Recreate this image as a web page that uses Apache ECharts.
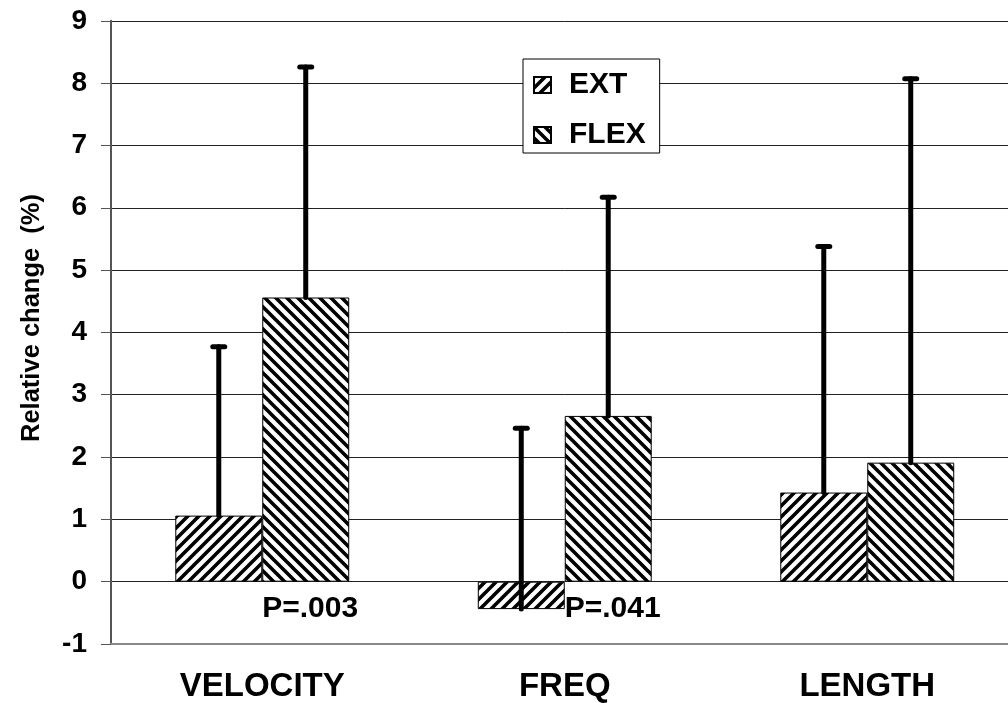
<!DOCTYPE html>
<html>
<head>
<meta charset="utf-8">
<script src="https://cdn.jsdelivr.net/npm/echarts@6/dist/echarts.min.js"></script>
<style>
  html, body { margin: 0; padding: 0; background: #fff; overflow: hidden; }
  #wrap { position: relative; width: 1008px; height: 703px; overflow: hidden; }
  #chart { position: absolute; left: 0; top: 0; width: 1019px; height: 703px; }
</style>
</head>
<body>
<div id="wrap"><div id="chart"></div></div>
<script>
// ---- data ----
const categories = ['VELOCITY', 'FREQ', 'LENGTH'];
const seriesNames = ['EXT', 'FLEX'];
const extMean = [1.06, -0.44, 1.43];
const extErrTop = [3.77, 2.46, 5.38];
const flexMean = [4.56, 2.66, 1.91];
const flexErrTop = [8.26, 6.17, 8.07];
const pLabels = ['P=.003', 'P=.041', ''];
const pLabelY = [-0.44, -0.44, -0.44];
const yTicks = [-1, 0, 1, 2, 3, 4, 5, 6, 7, 8, 9];
const yTitle = 'Relative change  (%)';

const FONT = '"Liberation Sans", Arial, sans-serif';
const BAR_CAT_GAP = 0.425;

function makePattern(dir) {
  const s = 11;
  const c = document.createElement('canvas');
  c.width = s; c.height = s;
  const ctx = c.getContext('2d');
  ctx.fillStyle = '#fff';
  ctx.fillRect(0, 0, s, s);
  ctx.strokeStyle = '#000';
  ctx.lineWidth = 3.6;
  ctx.beginPath();
  if (dir === '/') {
    ctx.moveTo(-s, s); ctx.lineTo(s, -s);
    ctx.moveTo(0, s * 2); ctx.lineTo(s * 2, 0);
    ctx.moveTo(-s, 2 * s); ctx.lineTo(2 * s, -s);
  } else {
    ctx.moveTo(-s, 0); ctx.lineTo(s, 2 * s);
    ctx.moveTo(0, -s); ctx.lineTo(2 * s, s);
    ctx.moveTo(-s, -s); ctx.lineTo(2 * s, 2 * s);
  }
  ctx.stroke();
  return { image: c, repeat: 'repeat' };
}
const extPattern = makePattern('/');
const flexPattern = makePattern('\\');

function errData(means, tops) {
  return means.map((m, i) => [i, m, tops[i]]);
}

function errRender(side) {
  return function (params, api) {
    const i = api.value(0);
    const m = api.value(1);
    const t = api.value(2);
    const bandW = api.size([1, 0])[0];
    const barW = bandW * (1 - BAR_CAT_GAP) / 2;
    const off = side * barW / 2;
    const p0 = api.coord([i, m]);
    const p1 = api.coord([i, t]);
    const x = p0[0] + off;
    const st = { stroke: '#000', lineWidth: 5, lineCap: 'round' };
    return {
      type: 'group',
      children: [
        { type: 'line', shape: { x1: x, y1: p0[1], x2: x, y2: p1[1] }, style: st },
        { type: 'line', shape: { x1: x - 6, y1: p1[1], x2: x + 6, y2: p1[1] }, style: st }
      ]
    };
  };
}

const chart = echarts.init(document.getElementById('chart'), null, { renderer: 'canvas' });
chart.setOption({
  animation: false,
  backgroundColor: '#fff',
  textStyle: { fontFamily: FONT },
  grid: { left: 111, top: 20.8, right: 0.5, bottom: 57.2, containLabel: false },
  legend: {
    data: seriesNames,
    orient: 'vertical',
    left: 523,
    top: 59,
    padding: [11, 14, 3, 10],
    icon: 'rect',
    itemWidth: 17,
    itemHeight: 16,
    itemGap: 20,
    backgroundColor: '#fff',
    borderColor: '#000',
    borderWidth: 1,
    borderRadius: 0,
    textStyle: { fontSize: 30, fontWeight: 'bold', color: '#000', fontFamily: FONT, lineHeight: 24, padding: [0, 0, 0, 13] }
  },
  xAxis: {
    type: 'category',
    data: categories,
    axisLine: { onZero: false, lineStyle: { color: '#888', width: 2 } },
    axisTick: { show: false },
    axisLabel: { fontSize: 33, fontWeight: 'bold', color: '#000', margin: 26, fontFamily: FONT },
    splitLine: { show: false }
  },
  yAxis: {
    type: 'value',
    min: yTicks[0],
    max: yTicks[yTicks.length - 1],
    interval: 1,
    axisLine: { show: true, lineStyle: { color: '#555', width: 2 } },
    axisTick: { show: true, length: 10, lineStyle: { color: '#555', width: 1 } },
    axisLabel: { fontSize: 28, fontWeight: 'bold', color: '#000', margin: 24, fontFamily: FONT },
    splitLine: { show: true, lineStyle: { color: '#222', width: 1 } }
  },
  graphic: [{
    type: 'text',
    x: 32, y: 318,
    rotation: Math.PI / 2,
    style: {
      text: yTitle,
      fontSize: 25.5, fontWeight: 'bold', fill: '#000', fontFamily: FONT,
      align: 'center', verticalAlign: 'middle'
    }
  }],
  series: [
    {
      name: 'EXT', type: 'bar', data: extMean,
      barGap: '0%', barCategoryGap: (BAR_CAT_GAP * 100) + '%',
      itemStyle: { color: extPattern, borderColor: '#000', borderWidth: 1 },
      z: 2
    },
    {
      name: 'FLEX', type: 'bar', data: flexMean,
      barGap: '0%', barCategoryGap: (BAR_CAT_GAP * 100) + '%',
      itemStyle: { color: flexPattern, borderColor: '#000', borderWidth: 1 },
      z: 2
    },
    {
      name: 'EXT err', type: 'custom', renderItem: errRender(-1),
      data: errData(extMean, extErrTop), encode: { x: 0, y: [1, 2] }, z: 5, silent: true
    },
    {
      name: 'FLEX err', type: 'custom', renderItem: errRender(1),
      data: errData(flexMean, flexErrTop), encode: { x: 0, y: [1, 2] }, z: 5, silent: true
    },
    {
      name: 'P', type: 'scatter', symbolSize: 0, silent: true, z: 6,
      itemStyle: { opacity: 1 },
      data: categories.map((c, i) => [i, pLabelY[i]]),
      label: {
        show: true, position: 'right', distance: 0, opacity: 1,
        formatter: (p) => pLabels[p.dataIndex],
        fontSize: 30, fontWeight: 'bold', color: '#000', fontFamily: FONT
      }
    }
  ]
});
</script>
</body>
</html>
